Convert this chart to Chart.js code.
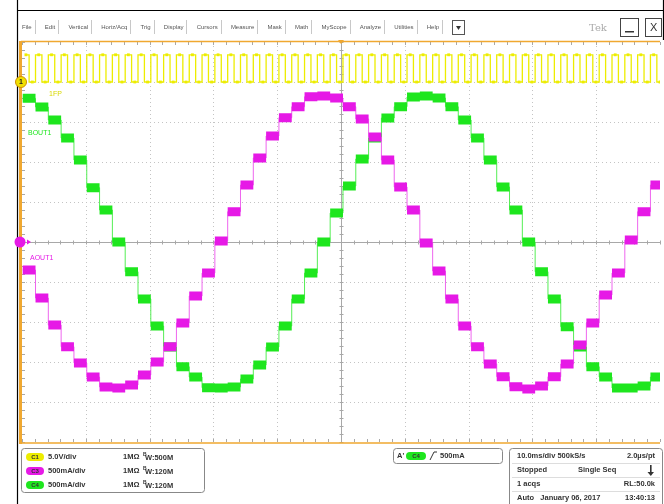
<!DOCTYPE html>
<html>
<head>
<meta charset="utf-8">
<script src="https://cdn.jsdelivr.net/npm/chart.js@4.4.0/dist/chart.umd.min.js"></script>
<style>
  html, body { margin: 0; padding: 0; background: #fff; }
  canvas { display: block; }
</style>
</head>
<body>
<canvas id="scope" width="664" height="504"></canvas>
<script>
// step levels, in mA (500mA/div, 50 steps across 100ms)
const bout1Steps = [1796, 1688, 1525, 1300, 1025, 679, 400, 0, -371, -712,
  -1050, -1312, -1559, -1688, -1821, -1825, -1812, -1712, -1538, -1312,
  -1050, -712, -388, 0, 362, 700, 1038, 1300, 1550, 1691,
  1812, 1825, 1800, 1691, 1525, 1300, 1025, 688, 400, 0,
  -371, -712, -1059, -1312, -1559, -1688, -1825, -1825, -1800, -1688];
const aout1Steps = [-350, -700, -1038, -1309, -1512, -1688, -1812, -1825, -1788, -1662,
  -1500, -1309, -1012, -675, -388, 12, 379, 712, 1050, 1325,
  1554, 1691, 1816, 1825, 1800, 1691, 1538, 1312, 1025, 688,
  400, -12, -362, -712, -1050, -1309, -1525, -1684, -1809, -1838,
  -1800, -1684, -1525, -1288, -1012, -662, -388, 25, 379, 712];
// CH1 clock, volts, one value per half step
const clockVolts = [3.4, 0, 3.4, 0, 3.4, 0, 3.4, 0, 3.4, 0, 3.4, 0, 3.4, 0, 3.4, 0, 3.4, 0, 3.4, 0,
  3.4, 0, 3.4, 0, 3.4, 0, 3.4, 0, 3.4, 0, 3.4, 0, 3.4, 0, 3.4, 0, 3.4, 0, 3.4, 0,
  3.4, 0, 3.4, 0, 3.4, 0, 3.4, 0, 3.4, 0, 3.4, 0, 3.4, 0, 3.4, 0, 3.4, 0, 3.4, 0,
  3.4, 0, 3.4, 0, 3.4, 0, 3.4, 0, 3.4, 0, 3.4, 0, 3.4, 0, 3.4, 0, 3.4, 0, 3.4, 0,
  3.4, 0, 3.4, 0, 3.4, 0, 3.4, 0, 3.4, 0, 3.4, 0, 3.4, 0, 3.4, 0, 3.4, 0, 3.4, 0];
const gridTimes = [0, 10, 20, 30, 40, 50, 60, 70, 80, 90, 100];          // ms
const gridLevels = [-2500, -2000, -1500, -1000, -500, 0, 500, 1000, 1500, 2000, 2500]; // mA
const menuItems = ["File", "Edit", "Vertical", "Horiz/Acq", "Trig", "Display", "Cursors",
  "Measure", "Mask", "Math", "MyScope", "Analyze", "Utilities", "Help"];

const STEP_MS = 2.008;
const START_MS = 0.11;
const CH1_OFFSET_DIV = 4;
const CH1_VOLTS_DIV = 5;
const MA_DIV = 500;

const YELLOW = '#eded00';
const GREEN = '#1ee61e';
const MAGENTA = '#e619e6';
const ORANGE = '#f0a830';
const TEXT = '#333';
const READOUT_FONT = 'bold 7.5px "Liberation Sans"';

function ch1ToAxis(v) {
  return (CH1_OFFSET_DIV + v / CH1_VOLTS_DIV) * MA_DIV;
}

// thick blocks, one per DAC step, broken between steps
function blockPoints(steps) {
  var pts = [];
  steps.forEach(function(v, k) {
    var t = START_MS + k * STEP_MS;
    pts.push({x: t, y: v}, {x: t + STEP_MS, y: v}, {x: t + STEP_MS, y: null});
  });
  return pts;
}
// thin stepped trace joining the blocks
function edgePoints(steps) {
  var pts = steps.map(function(v, k) {
    return {x: START_MS + k * STEP_MS, y: v};
  });
  pts.push({x: START_MS + steps.length * STEP_MS, y: steps[steps.length - 1]});
  return pts;
}
function clockPoints() {
  return clockVolts.map(function(v, i) {
    return {x: START_MS + (i + 0.5) * STEP_MS / 2, y: ch1ToAxis(v)};
  });
}

function pill(ctx, x, y, w, h, fill, label) {
  ctx.save();
  ctx.fillStyle = fill;
  ctx.beginPath();
  ctx.roundRect(x, y, w, h, h / 2);
  ctx.fill();
  ctx.fillStyle = '#333';
  ctx.font = 'bold 6px "Liberation Sans"';
  ctx.textAlign = 'center';
  ctx.textBaseline = 'middle';
  ctx.fillText(label, x + w / 2, y + h / 2 + 0.5);
  ctx.restore();
}

// scope frame, menu bar and readout boxes
const decorPlugin = {
  id: 'decor',
  beforeDraw: function(chart) {
    var ctx = chart.ctx;
    ctx.save();
    ctx.fillStyle = '#fff';
    ctx.fillRect(0, 0, chart.width, chart.height);

    // outer window frame
    ctx.strokeStyle = '#000';
    ctx.lineWidth = 1.2;
    ctx.beginPath();
    ctx.moveTo(17.5, 0); ctx.lineTo(17.5, 504);
    ctx.moveTo(17.5, 10.5); ctx.lineTo(664, 10.5);
    ctx.moveTo(663.5, 0); ctx.lineTo(663.5, 40);
    ctx.stroke();

    // menu bar
    ctx.font = '6px "Liberation Sans"';
    ctx.textBaseline = 'middle';
    var x = 22;
    menuItems.forEach(function(m) {
      ctx.fillStyle = '#555';
      ctx.fillText(m, x, 27);
      x += ctx.measureText(m).width + 6.5;
      ctx.strokeStyle = '#c8c8c8';
      ctx.lineWidth = 1;
      ctx.beginPath();
      ctx.moveTo(Math.round(x - 3.5) + 0.5, 20);
      ctx.lineTo(Math.round(x - 3.5) + 0.5, 34);
      ctx.stroke();
      x += 6.7;
    });
    ctx.strokeStyle = '#555';
    ctx.strokeRect(452.5, 20.5, 12, 14);
    ctx.fillStyle = '#333';
    ctx.beginPath();
    ctx.moveTo(456, 26); ctx.lineTo(461, 26); ctx.lineTo(458.5, 30); ctx.closePath();
    ctx.fill();

    ctx.font = '10px "DejaVu Serif"';
    ctx.fillStyle = '#aaa';
    ctx.fillText('Tek', 589, 28);
    ctx.strokeStyle = '#444';
    ctx.strokeRect(620.5, 18.5, 18, 18);
    ctx.strokeRect(645.5, 18.5, 16, 18);
    ctx.fillStyle = '#333';
    ctx.fillRect(625, 31, 9, 1.5);
    ctx.font = '11px "Liberation Sans"';
    ctx.fillText('X', 650, 28);

    // channel readout box
    ctx.strokeStyle = '#888';
    ctx.lineWidth = 1;
    ctx.beginPath(); ctx.roundRect(21.5, 448.5, 183, 44, 3); ctx.stroke();
    var rows = [
      [YELLOW, 'C1', '5.0V/div', '500M'],
      [MAGENTA, 'C3', '500mA/div', '120M'],
      [GREEN, 'C4', '500mA/div', '120M']
    ];
    rows.forEach(function(r, i) {
      var y = 457 + i * 14;
      pill(ctx, 26, y - 4, 18, 8, r[0], r[1]);
      ctx.fillStyle = TEXT;
      ctx.font = READOUT_FONT;
      ctx.textBaseline = 'middle';
      ctx.fillText(r[2], 48, y);
      ctx.fillText('1M\u03a9', 123, y);
      ctx.font = 'bold 5px "Liberation Sans"';
      ctx.fillText('B', 143, y - 2);
      ctx.font = READOUT_FONT;
      ctx.fillText('W:' + r[3], 145, y + 1);
    });

    // trigger box
    ctx.strokeStyle = '#888';
    ctx.beginPath(); ctx.roundRect(393.5, 448.5, 109, 15, 3); ctx.stroke();
    ctx.fillStyle = TEXT;
    ctx.font = READOUT_FONT;
    ctx.fillText("A'", 397, 456);
    pill(ctx, 406, 452, 20, 8, GREEN, 'C4');
    ctx.strokeStyle = TEXT;
    ctx.beginPath(); ctx.moveTo(430, 460); ctx.lineTo(434, 452); ctx.lineTo(437, 452); ctx.stroke();
    ctx.fillStyle = TEXT;
    ctx.font = READOUT_FONT;
    ctx.fillText('500mA', 440, 456);

    // timebase / acquisition box
    ctx.strokeStyle = '#888';
    ctx.beginPath(); ctx.roundRect(509.5, 448.5, 153, 60, 3); ctx.stroke();
    ctx.strokeStyle = '#ddd';
    [463.5, 477.5, 491.5].forEach(function(yy) {
      ctx.beginPath(); ctx.moveTo(512, yy); ctx.lineTo(660, yy); ctx.stroke();
    });
    ctx.fillStyle = TEXT;
    ctx.font = READOUT_FONT;
    ctx.fillText('10.0ms/div 500kS/s', 517, 456);
    ctx.fillText('Stopped', 517, 470);
    ctx.fillText('Single Seq', 578, 470);
    ctx.fillText('1 acqs', 517, 484);
    ctx.fillText('Auto   January 06, 2017', 517, 498);
    ctx.textAlign = 'right';
    ctx.fillText('2.0\u00b5s/pt', 655, 456);
    ctx.fillText('RL:50.0k', 655, 484);
    ctx.fillText('13:40:13', 655, 498);
    ctx.textAlign = 'left';
    ctx.fillRect(650, 465, 1.6, 8);
    ctx.beginPath(); ctx.moveTo(647.5, 472); ctx.lineTo(654, 472); ctx.lineTo(650.8, 476); ctx.closePath(); ctx.fill();
    ctx.restore();
  },
  beforeDatasetsDraw: function(chart) {
    var ctx = chart.ctx, a = chart.chartArea;
    var xs = chart.scales.x, ys = chart.scales.y;
    ctx.save();
    ctx.lineWidth = 1;
    // dotted graticule
    ctx.strokeStyle = '#c4c4c4';
    ctx.setLineDash([1, 3]);
    gridTimes.forEach(function(t) {
      if (t === 0 || t === 50 || t === 100) return;
      var px = Math.round(xs.getPixelForValue(t)) + 0.5;
      ctx.beginPath(); ctx.moveTo(px, a.top); ctx.lineTo(px, a.bottom); ctx.stroke();
    });
    gridLevels.forEach(function(v) {
      if (v === 0 || Math.abs(v) === 2500) return;
      var py = Math.round(ys.getPixelForValue(v)) + 0.5;
      ctx.beginPath(); ctx.moveTo(a.left, py); ctx.lineTo(a.right, py); ctx.stroke();
    });
    ctx.setLineDash([]);
    // centre cross with minor ticks
    var cx = Math.round(xs.getPixelForValue(50)) + 0.5;
    var cy = Math.round(ys.getPixelForValue(0)) + 0.5;
    ctx.strokeStyle = '#a8a8a8';
    ctx.beginPath();
    ctx.moveTo(cx, a.top); ctx.lineTo(cx, a.bottom);
    ctx.moveTo(a.left, cy); ctx.lineTo(a.right, cy);
    for (var t = 0; t <= 100; t += 2) {
      var px = Math.round(xs.getPixelForValue(t)) + 0.5;
      ctx.moveTo(px, cy - 2); ctx.lineTo(px, cy + 2);
      ctx.moveTo(px, a.top); ctx.lineTo(px, a.top + 3);
      ctx.moveTo(px, a.bottom); ctx.lineTo(px, a.bottom - 3);
    }
    for (var v = -2500; v <= 2500; v += 100) {
      var py = Math.round(ys.getPixelForValue(v)) + 0.5;
      ctx.moveTo(cx - 2, py); ctx.lineTo(cx + 2, py);
      ctx.moveTo(a.left, py); ctx.lineTo(a.left + 3, py);
    }
    ctx.stroke();
    // orange screen border
    ctx.strokeStyle = ORANGE;
    ctx.lineWidth = 1.5;
    ctx.beginPath();
    ctx.moveTo(a.left - 1, a.top - 0.5); ctx.lineTo(a.right, a.top - 0.5);
    ctx.moveTo(a.left - 1, a.bottom + 1); ctx.lineTo(a.right, a.bottom + 1);
    ctx.stroke();
    ctx.lineWidth = 3;
    ctx.beginPath();
    ctx.moveTo(a.left - 1.5, a.top - 1); ctx.lineTo(a.left - 1.5, a.bottom + 2);
    ctx.stroke();
    ctx.restore();
  },
  afterDatasetsDraw: function(chart) {
    var ctx = chart.ctx, a = chart.chartArea;
    var xs = chart.scales.x, ys = chart.scales.y;
    ctx.save();
    // trace labels
    ctx.font = '7px "Liberation Sans"';
    ctx.textBaseline = 'middle';
    ctx.fillStyle = '#d8d800';
    ctx.fillText('1FP', 49, 94);
    ctx.fillStyle = GREEN;
    ctx.fillText('BOUT1', 28, 133);
    ctx.fillStyle = MAGENTA;
    ctx.fillText('AOUT1', 30, 258);
    // ground markers
    var y1 = ys.getPixelForValue(ch1ToAxis(0));
    ctx.fillStyle = '#f0e000';
    ctx.strokeStyle = '#d09000';
    ctx.lineWidth = 1;
    ctx.beginPath(); ctx.arc(a.left - 1, y1, 5.5, 0, Math.PI * 2); ctx.fill(); ctx.stroke();
    ctx.fillStyle = '#222';
    ctx.font = 'bold 7px "Liberation Sans"';
    ctx.textAlign = 'center';
    ctx.fillText('1', a.left - 1, y1 + 0.5);
    var y0 = ys.getPixelForValue(0);
    ctx.fillStyle = MAGENTA;
    ctx.beginPath(); ctx.arc(a.left - 2, y0, 5.5, 0, Math.PI * 2); ctx.fill();
    ctx.beginPath(); ctx.moveTo(a.left + 5, y0 - 2.5); ctx.lineTo(a.left + 9, y0); ctx.lineTo(a.left + 5, y0 + 2.5); ctx.closePath(); ctx.fill();
    // trigger position
    var tx = xs.getPixelForValue(50);
    ctx.fillStyle = ORANGE;
    ctx.beginPath(); ctx.moveTo(tx - 3, a.top - 2); ctx.lineTo(tx + 3, a.top - 2); ctx.lineTo(tx, a.top + 2); ctx.closePath(); ctx.fill();
    ctx.restore();
  }
};

new Chart(document.getElementById('scope'), {
  type: 'line',
  data: {
    datasets: [
      {
        label: 'CH1',
        data: clockPoints(),
        borderColor: YELLOW,
        borderWidth: 1.3,
        stepped: 'middle',
        pointStyle: 'rect',
        pointRadius: 2,
        pointBackgroundColor: YELLOW,
        pointBorderWidth: 0,
        order: 0
      },
      {
        label: 'AOUT1',
        data: blockPoints(aout1Steps),
        borderColor: MAGENTA,
        borderWidth: 9,
        borderCapStyle: 'butt',
        pointRadius: 0,
        order: 1
      },
      {
        label: 'AOUT1 edges',
        data: edgePoints(aout1Steps),
        borderColor: '#ee66ee',
        borderWidth: 1,
        stepped: true,
        pointRadius: 0,
        order: 2
      },
      {
        label: 'BOUT1',
        data: blockPoints(bout1Steps),
        borderColor: GREEN,
        borderWidth: 9,
        borderCapStyle: 'butt',
        pointRadius: 0,
        order: 3
      },
      {
        label: 'BOUT1 edges',
        data: edgePoints(bout1Steps),
        borderColor: '#55ee55',
        borderWidth: 1,
        stepped: true,
        pointRadius: 0,
        order: 4
      }
    ]
  },
  options: {
    responsive: false,
    animation: false,
    devicePixelRatio: 1,
    layout: { padding: { left: 22, right: 2, top: 42, bottom: 62 } },
    scales: {
      x: { type: 'linear', min: 0, max: 100, display: false },
      y: { type: 'linear', min: -2500, max: 2500, display: false }
    },
    plugins: {
      legend: { display: false },
      tooltip: { enabled: false }
    }
  },
  plugins: [decorPlugin]
});
</script>
</body>
</html>
